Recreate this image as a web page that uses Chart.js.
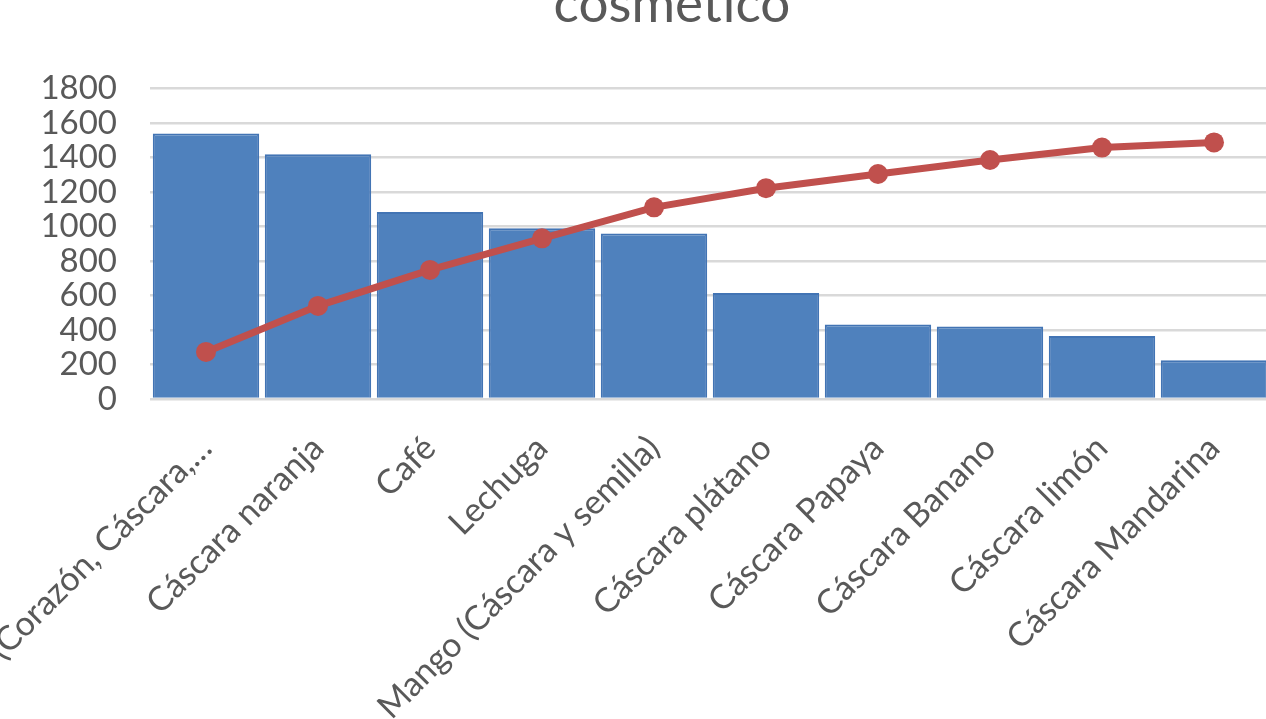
<!DOCTYPE html>
<html>
<head>
<meta charset="utf-8">
<script src="https://cdn.jsdelivr.net/npm/chart.js@4.4.0/dist/chart.umd.min.js"></script>
<style>
  html, body { margin: 0; padding: 0; background: #fff; overflow: hidden; width: 1266px; height: 719px; }
  #wrap { position: absolute; left: 0; top: -34px; }
</style>
</head>
<body>
<div id="wrap"><canvas id="myChart" width="1344" height="800"></canvas></div>
<script>
// residuos (categorias), cantidad por residuo y % acumulado
const categories = [
  'Piña (Corazón, Cáscara,…',
  'Cáscara naranja',
  'Café',
  'Lechuga',
  'Mango (Cáscara y semilla)',
  'Cáscara plátano',
  'Cáscara Papaya',
  'Cáscara Banano',
  'Cáscara limón',
  'Cáscara Mandarina'
];
const cantidad = [1540, 1420, 1085, 990, 960, 615, 432, 420, 365, 225];
const acumulado = [18.2, 36.0, 49.9, 62.1, 74.1, 81.5, 87.0, 92.4, 97.2, 99.2];
const yMax = 1800;
const yStep = 200;
const y1Max = 120;
const y1Step = 20;

const grayText = '#595959';
const ctx = document.getElementById('myChart');

const paretoChart = new Chart(ctx, {
  data: {
    labels: categories,
    datasets: [
      {
        type: 'line',
        label: '% acumulado',
        data: acumulado,
        yAxisID: 'y1',
        order: 1,
        borderColor: '#C0504D',
        backgroundColor: '#C0504D',
        borderWidth: 7,
        pointRadius: 10,
        pointBorderWidth: 0,
        pointBackgroundColor: '#C0504D',
        tension: 0
      },
      {
        type: 'bar',
        label: 'Cantidad',
        data: cantidad,
        yAxisID: 'y',
        order: 2,
        backgroundColor: '#4F81BD',
        borderColor: '#4274B4',
        borderWidth: 2,
        barPercentage: 0.95,
        categoryPercentage: 1.0
      }
    ]
  },
  options: {
    responsive: false,
    animation: false,
    devicePixelRatio: 1,
    layout: { padding: 0 },
    plugins: {
      legend: { display: false },
      tooltip: { enabled: false },
      title: {
        display: true,
        text: 'cosmetico',
        color: grayText,
        font: { family: 'Lato', size: 53, weight: 'normal' },
        padding: { top: 7, bottom: 52 }
      }
    },
    scales: {
      x: {
        grid: { display: false },
        border: { display: false },
        ticks: {
          color: grayText,
          font: { family: 'Lato', size: 34 },
          minRotation: 45,
          maxRotation: 45,
          autoSkip: false,
          padding: 21
        },
        afterFit: (scale) => {
          scale.height = 367;
          // first label runs off the left edge, as in the original
          scale.paddingLeft = 0;
          scale.paddingRight = 0;
        }
      },
      y: {
        position: 'left',
        min: 0,
        max: yMax,
        grid: { color: '#D9D9D9', lineWidth: 2.5, drawTicks: false },
        border: { display: false },
        ticks: {
          stepSize: yStep,
          autoSkip: false,
          color: grayText,
          font: { family: 'Lato', size: 33 },
          padding: 33,
          callback: (v) => String(v)
        },
        afterFit: (scale) => { scale.width = 150; }
      },
      y1: {
        position: 'right',
        min: 0,
        max: y1Max,
        grid: { display: false },
        border: { display: false },
        ticks: {
          stepSize: y1Step,
          autoSkip: false,
          color: grayText,
          font: { family: 'Lato', size: 33 },
          padding: 20,
          callback: (v) => v + '%'
        },
        afterFit: (scale) => { scale.width = 74; }
      }
    }
  }
});
</script>
</body>
</html>
